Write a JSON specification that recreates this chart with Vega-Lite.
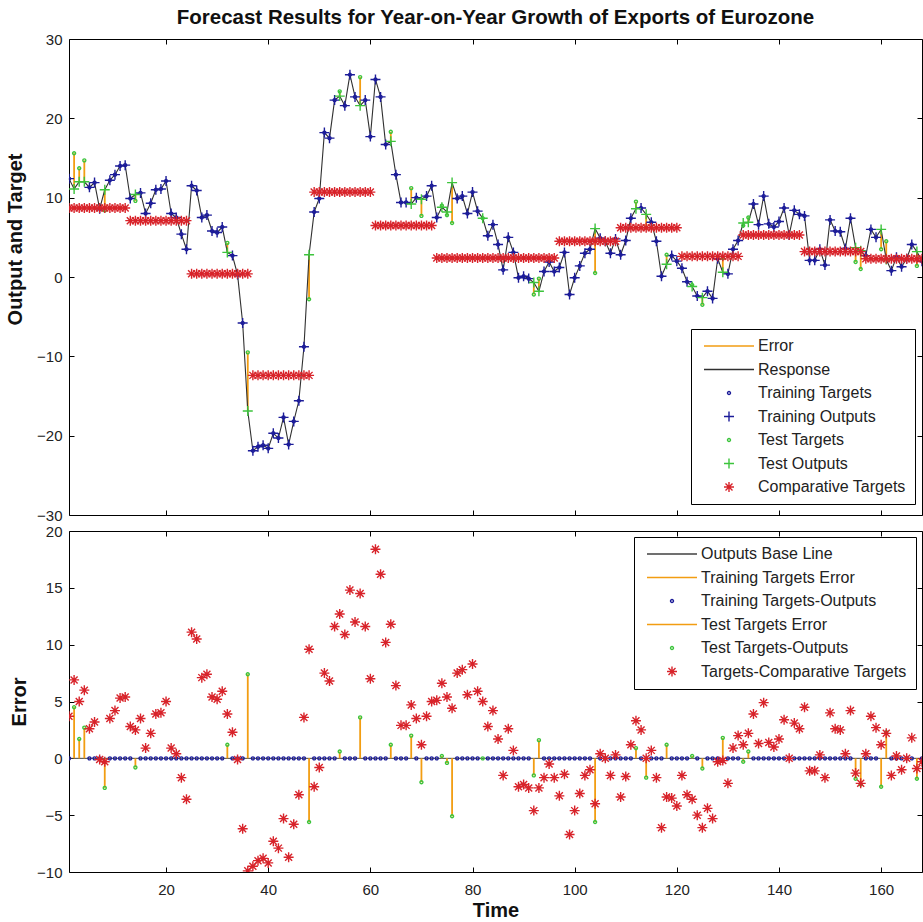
{
  "$schema": "https://vega.github.io/schema/vega-lite/v6.json",
  "background": "white",
  "padding": {"left": 5, "top": 7, "right": 0, "bottom": 0},
  "config": {
    "font": "Liberation Sans",
    "view": {"stroke": "#000", "strokeWidth": 1},
    "axis": {"grid": false, "domain": false, "tickSize": -5, "tickColor": "#000", "tickWidth": 1,
      "labelFont": "Liberation Sans", "labelFontSize": 15, "labelColor": "#222",
      "titleFont": "Liberation Sans", "titleFontSize": 20, "titleFontWeight": "bold", "titleColor": "#111",
      "labelFlush": false, "labelOverlap": false, "labelBound": false},
    "axisX": {"labelPadding": 15, "titlePadding": 3},
    "axisY": {"labelPadding": 12},
    "legend": {"labelFont": "Liberation Sans", "labelFontSize": 16, "labelColor": "#222",
      "symbolSize": 100, "symbolStrokeWidth": 1.4, "rowPadding": 7.5, "padding": 9,
      "strokeColor": "#000", "fillColor": "#fff", "symbolOffset": 21, "labelOffset": 21,
      "cornerRadius": 0, "labelLimit": 400, "symbolFillColor": "transparent"},
    "title": {"font": "Liberation Sans", "fontSize": 20.5, "fontWeight": "bold", "color": "#111", "anchor": "middle", "offset": 4}
  },
  "data": {"values": [
    {"t":1,"target":12.4,"output":12.4,"comp":8.7,"err":0,"diff":3.7,"set":"train"},
    {"t":2,"target":15.6,"output":11.1,"comp":8.7,"err":4.5,"diff":6.9,"set":"test"},
    {"t":3,"target":13.7,"output":12.0,"comp":8.7,"err":1.7,"diff":5.0,"set":"test"},
    {"t":4,"target":14.7,"output":12.0,"comp":8.7,"err":2.7,"diff":6.0,"set":"test"},
    {"t":5,"target":11.3,"output":11.3,"comp":8.7,"err":0,"diff":2.6,"set":"train"},
    {"t":6,"target":11.9,"output":11.9,"comp":8.7,"err":0,"diff":3.2,"set":"train"},
    {"t":7,"target":8.6,"output":8.6,"comp":8.7,"err":0,"diff":-0.1,"set":"train"},
    {"t":8,"target":8.4,"output":11.0,"comp":8.7,"err":-2.6,"diff":-0.3,"set":"test"},
    {"t":9,"target":12.2,"output":12.2,"comp":8.7,"err":0,"diff":3.5,"set":"train"},
    {"t":10,"target":12.9,"output":12.9,"comp":8.7,"err":0,"diff":4.2,"set":"train"},
    {"t":11,"target":14.0,"output":14.0,"comp":8.7,"err":0,"diff":5.3,"set":"train"},
    {"t":12,"target":14.1,"output":14.1,"comp":8.7,"err":0,"diff":5.4,"set":"train"},
    {"t":13,"target":9.9,"output":9.9,"comp":7.1,"err":0,"diff":2.8,"set":"train"},
    {"t":14,"target":9.6,"output":10.4,"comp":7.1,"err":-0.8,"diff":2.5,"set":"test"},
    {"t":15,"target":10.6,"output":10.6,"comp":7.1,"err":0,"diff":3.5,"set":"train"},
    {"t":16,"target":8.0,"output":8.0,"comp":7.1,"err":0,"diff":0.9,"set":"train"},
    {"t":17,"target":9.3,"output":9.3,"comp":7.1,"err":0,"diff":2.2,"set":"train"},
    {"t":18,"target":11.0,"output":11.0,"comp":7.1,"err":0,"diff":3.9,"set":"train"},
    {"t":19,"target":11.1,"output":11.1,"comp":7.1,"err":0,"diff":4.0,"set":"train"},
    {"t":20,"target":12.1,"output":12.1,"comp":7.1,"err":0,"diff":5.0,"set":"train"},
    {"t":21,"target":8.0,"output":8.0,"comp":7.1,"err":0,"diff":0.9,"set":"train"},
    {"t":22,"target":7.5,"output":7.5,"comp":7.1,"err":0,"diff":0.4,"set":"train"},
    {"t":23,"target":5.4,"output":5.4,"comp":7.1,"err":0,"diff":-1.7,"set":"train"},
    {"t":24,"target":3.5,"output":3.5,"comp":7.1,"err":0,"diff":-3.6,"set":"train"},
    {"t":25,"target":11.5,"output":11.5,"comp":0.4,"err":0,"diff":11.1,"set":"train"},
    {"t":26,"target":10.9,"output":10.9,"comp":0.4,"err":0,"diff":10.5,"set":"train"},
    {"t":27,"target":7.5,"output":7.5,"comp":0.4,"err":0,"diff":7.1,"set":"train"},
    {"t":28,"target":7.8,"output":7.8,"comp":0.4,"err":0,"diff":7.4,"set":"train"},
    {"t":29,"target":5.8,"output":5.8,"comp":0.4,"err":0,"diff":5.4,"set":"train"},
    {"t":30,"target":5.6,"output":5.6,"comp":0.4,"err":0,"diff":5.2,"set":"train"},
    {"t":31,"target":6.3,"output":6.3,"comp":0.4,"err":0,"diff":5.9,"set":"train"},
    {"t":32,"target":4.3,"output":3.1,"comp":0.4,"err":1.2,"diff":3.9,"set":"test"},
    {"t":33,"target":2.7,"output":2.7,"comp":0.4,"err":0,"diff":2.3,"set":"train"},
    {"t":34,"target":0.3,"output":0.3,"comp":0.4,"err":0,"diff":-0.1,"set":"train"},
    {"t":35,"target":-5.8,"output":-5.8,"comp":0.4,"err":0,"diff":-6.2,"set":"train"},
    {"t":36,"target":-9.5,"output":-16.9,"comp":0.4,"err":7.4,"diff":-9.9,"set":"test"},
    {"t":37,"target":-21.9,"output":-21.9,"comp":-12.4,"err":0,"diff":-9.5,"set":"train"},
    {"t":38,"target":-21.4,"output":-21.4,"comp":-12.4,"err":0,"diff":-9.0,"set":"train"},
    {"t":39,"target":-21.2,"output":-21.2,"comp":-12.4,"err":0,"diff":-8.8,"set":"train"},
    {"t":40,"target":-21.6,"output":-21.6,"comp":-12.4,"err":0,"diff":-9.2,"set":"train"},
    {"t":41,"target":-19.7,"output":-19.7,"comp":-12.4,"err":0,"diff":-7.3,"set":"train"},
    {"t":42,"target":-20.3,"output":-20.3,"comp":-12.4,"err":0,"diff":-7.9,"set":"train"},
    {"t":43,"target":-17.7,"output":-17.7,"comp":-12.4,"err":0,"diff":-5.3,"set":"train"},
    {"t":44,"target":-21.1,"output":-21.1,"comp":-12.4,"err":0,"diff":-8.7,"set":"train"},
    {"t":45,"target":-18.2,"output":-18.2,"comp":-12.4,"err":0,"diff":-5.8,"set":"train"},
    {"t":46,"target":-15.6,"output":-15.6,"comp":-12.4,"err":0,"diff":-3.2,"set":"train"},
    {"t":47,"target":-8.8,"output":-8.8,"comp":-12.4,"err":0,"diff":3.6,"set":"train"},
    {"t":48,"target":-2.8,"output":2.8,"comp":-12.4,"err":-5.6,"diff":9.6,"set":"test"},
    {"t":49,"target":8.2,"output":8.2,"comp":10.7,"err":0,"diff":-2.5,"set":"train"},
    {"t":50,"target":9.9,"output":9.9,"comp":10.7,"err":0,"diff":-0.8,"set":"train"},
    {"t":51,"target":18.2,"output":18.2,"comp":10.7,"err":0,"diff":7.5,"set":"train"},
    {"t":52,"target":17.5,"output":17.5,"comp":10.7,"err":0,"diff":6.8,"set":"train"},
    {"t":53,"target":22.3,"output":22.3,"comp":10.7,"err":0,"diff":11.6,"set":"train"},
    {"t":54,"target":23.4,"output":22.8,"comp":10.7,"err":0.6,"diff":12.7,"set":"test"},
    {"t":55,"target":21.6,"output":21.6,"comp":10.7,"err":0,"diff":10.9,"set":"train"},
    {"t":56,"target":25.5,"output":25.5,"comp":10.7,"err":0,"diff":14.8,"set":"train"},
    {"t":57,"target":22.7,"output":22.7,"comp":10.7,"err":0,"diff":12.0,"set":"train"},
    {"t":58,"target":25.2,"output":21.6,"comp":10.7,"err":3.6,"diff":14.5,"set":"test"},
    {"t":59,"target":22.3,"output":22.3,"comp":10.7,"err":0,"diff":11.6,"set":"train"},
    {"t":60,"target":17.7,"output":17.7,"comp":10.7,"err":0,"diff":7.0,"set":"train"},
    {"t":61,"target":24.9,"output":24.9,"comp":6.5,"err":0,"diff":18.4,"set":"train"},
    {"t":62,"target":22.7,"output":22.7,"comp":6.5,"err":0,"diff":16.2,"set":"train"},
    {"t":63,"target":16.7,"output":16.7,"comp":6.5,"err":0,"diff":10.2,"set":"train"},
    {"t":64,"target":18.3,"output":17.1,"comp":6.5,"err":1.2,"diff":11.8,"set":"test"},
    {"t":65,"target":12.9,"output":12.9,"comp":6.5,"err":0,"diff":6.4,"set":"train"},
    {"t":66,"target":9.4,"output":9.4,"comp":6.5,"err":0,"diff":2.9,"set":"train"},
    {"t":67,"target":9.4,"output":9.4,"comp":6.5,"err":0,"diff":2.9,"set":"train"},
    {"t":68,"target":11.2,"output":9.2,"comp":6.5,"err":2.0,"diff":4.7,"set":"test"},
    {"t":69,"target":10.0,"output":10.0,"comp":6.5,"err":0,"diff":3.5,"set":"train"},
    {"t":70,"target":7.7,"output":9.8,"comp":6.5,"err":-2.1,"diff":1.2,"set":"test"},
    {"t":71,"target":10.2,"output":10.2,"comp":6.5,"err":0,"diff":3.7,"set":"train"},
    {"t":72,"target":11.5,"output":11.5,"comp":6.5,"err":0,"diff":5.0,"set":"train"},
    {"t":73,"target":7.5,"output":7.5,"comp":2.4,"err":0,"diff":5.1,"set":"train"},
    {"t":74,"target":9.0,"output":8.8,"comp":2.4,"err":0.2,"diff":6.6,"set":"test"},
    {"t":75,"target":7.8,"output":8.2,"comp":2.4,"err":-0.4,"diff":5.4,"set":"test"},
    {"t":76,"target":6.8,"output":11.9,"comp":2.4,"err":-5.1,"diff":4.4,"set":"test"},
    {"t":77,"target":9.9,"output":9.9,"comp":2.4,"err":0,"diff":7.5,"set":"train"},
    {"t":78,"target":10.2,"output":10.2,"comp":2.4,"err":0,"diff":7.8,"set":"train"},
    {"t":79,"target":8.0,"output":8.0,"comp":2.4,"err":0,"diff":5.6,"set":"train"},
    {"t":80,"target":10.7,"output":10.7,"comp":2.4,"err":0,"diff":8.3,"set":"train"},
    {"t":81,"target":8.3,"output":8.3,"comp":2.4,"err":0,"diff":5.9,"set":"train"},
    {"t":82,"target":7.4,"output":7.4,"comp":2.4,"err":0,"diff":5.0,"set":"test"},
    {"t":83,"target":5.2,"output":5.2,"comp":2.4,"err":0,"diff":2.8,"set":"train"},
    {"t":84,"target":6.6,"output":6.6,"comp":2.4,"err":0,"diff":4.2,"set":"train"},
    {"t":85,"target":4.1,"output":4.1,"comp":2.4,"err":0,"diff":1.7,"set":"train"},
    {"t":86,"target":0.9,"output":0.9,"comp":2.4,"err":0,"diff":-1.5,"set":"train"},
    {"t":87,"target":5.0,"output":5.0,"comp":2.4,"err":0,"diff":2.6,"set":"train"},
    {"t":88,"target":3.1,"output":3.1,"comp":2.4,"err":0,"diff":0.7,"set":"train"},
    {"t":89,"target":-0.1,"output":-0.1,"comp":2.4,"err":0,"diff":-2.5,"set":"train"},
    {"t":90,"target":0.1,"output":0.1,"comp":2.4,"err":0,"diff":-2.3,"set":"train"},
    {"t":91,"target":-0.2,"output":-0.2,"comp":2.4,"err":0,"diff":-2.6,"set":"train"},
    {"t":92,"target":-2.2,"output":-0.7,"comp":2.4,"err":-1.5,"diff":-4.6,"set":"test"},
    {"t":93,"target":-0.2,"output":-1.8,"comp":2.4,"err":1.6,"diff":-2.6,"set":"test"},
    {"t":94,"target":0.7,"output":0.7,"comp":2.4,"err":0,"diff":-1.7,"set":"train"},
    {"t":95,"target":1.9,"output":1.9,"comp":2.4,"err":0,"diff":-0.5,"set":"train"},
    {"t":96,"target":0.7,"output":0.7,"comp":2.4,"err":0,"diff":-1.7,"set":"train"},
    {"t":97,"target":1.2,"output":1.2,"comp":4.5,"err":0,"diff":-3.3,"set":"train"},
    {"t":98,"target":3.1,"output":3.1,"comp":4.5,"err":0,"diff":-1.4,"set":"train"},
    {"t":99,"target":-2.2,"output":-2.2,"comp":4.5,"err":0,"diff":-6.7,"set":"train"},
    {"t":100,"target":-0.1,"output":-0.1,"comp":4.5,"err":0,"diff":-4.6,"set":"train"},
    {"t":101,"target":1.4,"output":1.4,"comp":4.5,"err":0,"diff":-3.1,"set":"train"},
    {"t":102,"target":3.0,"output":3.0,"comp":4.5,"err":0,"diff":-1.5,"set":"train"},
    {"t":103,"target":3.5,"output":3.5,"comp":4.5,"err":0,"diff":-1.0,"set":"train"},
    {"t":104,"target":0.5,"output":6.1,"comp":4.5,"err":-5.6,"diff":-4.0,"set":"test"},
    {"t":105,"target":4.9,"output":4.9,"comp":4.5,"err":0,"diff":0.4,"set":"train"},
    {"t":106,"target":4.5,"output":4.5,"comp":4.5,"err":0,"diff":0.0,"set":"train"},
    {"t":107,"target":3.0,"output":3.0,"comp":4.5,"err":0,"diff":-1.5,"set":"train"},
    {"t":108,"target":4.8,"output":4.8,"comp":4.5,"err":0,"diff":0.3,"set":"train"},
    {"t":109,"target":2.8,"output":2.8,"comp":6.2,"err":0,"diff":-3.4,"set":"train"},
    {"t":110,"target":4.6,"output":4.6,"comp":6.2,"err":0,"diff":-1.6,"set":"train"},
    {"t":111,"target":7.4,"output":7.4,"comp":6.2,"err":0,"diff":1.2,"set":"train"},
    {"t":112,"target":9.5,"output":8.6,"comp":6.2,"err":0.9,"diff":3.3,"set":"test"},
    {"t":113,"target":8.7,"output":8.7,"comp":6.2,"err":0,"diff":2.5,"set":"train"},
    {"t":114,"target":6.2,"output":7.9,"comp":6.2,"err":-1.7,"diff":0.0,"set":"test"},
    {"t":115,"target":6.9,"output":6.9,"comp":6.2,"err":0,"diff":0.7,"set":"train"},
    {"t":116,"target":4.5,"output":4.5,"comp":6.2,"err":0,"diff":-1.7,"set":"train"},
    {"t":117,"target":0.1,"output":0.1,"comp":6.2,"err":0,"diff":-6.1,"set":"train"},
    {"t":118,"target":2.8,"output":1.6,"comp":6.2,"err":1.2,"diff":-3.4,"set":"test"},
    {"t":119,"target":2.7,"output":2.7,"comp":6.2,"err":0,"diff":-3.5,"set":"train"},
    {"t":120,"target":2.0,"output":2.0,"comp":6.2,"err":0,"diff":-4.2,"set":"train"},
    {"t":121,"target":1.1,"output":1.1,"comp":2.6,"err":0,"diff":-1.5,"set":"train"},
    {"t":122,"target":-0.6,"output":-0.6,"comp":2.6,"err":0,"diff":-3.2,"set":"train"},
    {"t":123,"target":-1.0,"output":-1.2,"comp":2.6,"err":0.2,"diff":-3.6,"set":"test"},
    {"t":124,"target":-2.4,"output":-2.4,"comp":2.6,"err":0,"diff":-5.0,"set":"train"},
    {"t":125,"target":-3.5,"output":-2.6,"comp":2.6,"err":-0.9,"diff":-6.1,"set":"test"},
    {"t":126,"target":-1.8,"output":-1.8,"comp":2.6,"err":0,"diff":-4.4,"set":"train"},
    {"t":127,"target":-2.7,"output":-2.7,"comp":2.6,"err":0,"diff":-5.3,"set":"train"},
    {"t":128,"target":2.3,"output":2.3,"comp":2.6,"err":0,"diff":-0.3,"set":"train"},
    {"t":129,"target":2.4,"output":0.6,"comp":2.6,"err":1.8,"diff":-0.2,"set":"test"},
    {"t":130,"target":0.4,"output":0.4,"comp":2.6,"err":0,"diff":-2.2,"set":"train"},
    {"t":131,"target":3.5,"output":3.5,"comp":2.6,"err":0,"diff":0.9,"set":"train"},
    {"t":132,"target":4.6,"output":4.6,"comp":2.6,"err":0,"diff":2.0,"set":"train"},
    {"t":133,"target":6.5,"output":6.8,"comp":5.3,"err":-0.3,"diff":1.2,"set":"test"},
    {"t":134,"target":7.5,"output":6.9,"comp":5.3,"err":0.6,"diff":2.2,"set":"test"},
    {"t":135,"target":9.2,"output":9.2,"comp":5.3,"err":0,"diff":3.9,"set":"train"},
    {"t":136,"target":6.6,"output":6.6,"comp":5.3,"err":0,"diff":1.3,"set":"train"},
    {"t":137,"target":10.2,"output":10.2,"comp":5.3,"err":0,"diff":4.9,"set":"train"},
    {"t":138,"target":6.7,"output":6.7,"comp":5.3,"err":0,"diff":1.4,"set":"train"},
    {"t":139,"target":6.3,"output":6.3,"comp":5.3,"err":0,"diff":1.0,"set":"train"},
    {"t":140,"target":7.0,"output":7.0,"comp":5.3,"err":0,"diff":1.7,"set":"train"},
    {"t":141,"target":8.7,"output":8.7,"comp":5.3,"err":0,"diff":3.4,"set":"train"},
    {"t":142,"target":5.3,"output":5.3,"comp":5.3,"err":0,"diff":0.0,"set":"train"},
    {"t":143,"target":8.4,"output":8.4,"comp":5.3,"err":0,"diff":3.1,"set":"train"},
    {"t":144,"target":7.9,"output":7.9,"comp":5.3,"err":0,"diff":2.6,"set":"train"},
    {"t":145,"target":7.7,"output":7.7,"comp":3.2,"err":0,"diff":4.5,"set":"train"},
    {"t":146,"target":2.1,"output":2.1,"comp":3.2,"err":0,"diff":-1.1,"set":"train"},
    {"t":147,"target":2.1,"output":2.1,"comp":3.2,"err":0,"diff":-1.1,"set":"train"},
    {"t":148,"target":3.5,"output":3.5,"comp":3.2,"err":0,"diff":0.3,"set":"train"},
    {"t":149,"target":1.5,"output":1.5,"comp":3.2,"err":0,"diff":-1.7,"set":"train"},
    {"t":150,"target":7.2,"output":7.2,"comp":3.2,"err":0,"diff":4.0,"set":"train"},
    {"t":151,"target":5.8,"output":5.8,"comp":3.2,"err":0,"diff":2.6,"set":"train"},
    {"t":152,"target":5.7,"output":5.7,"comp":3.2,"err":0,"diff":2.5,"set":"train"},
    {"t":153,"target":3.6,"output":3.6,"comp":3.2,"err":0,"diff":0.4,"set":"train"},
    {"t":154,"target":7.4,"output":7.4,"comp":3.2,"err":0,"diff":4.2,"set":"train"},
    {"t":155,"target":1.9,"output":3.7,"comp":3.2,"err":-1.8,"diff":-1.3,"set":"test"},
    {"t":156,"target":1.0,"output":3.3,"comp":3.2,"err":-2.3,"diff":-2.2,"set":"test"},
    {"t":157,"target":2.7,"output":2.7,"comp":2.3,"err":0,"diff":0.4,"set":"train"},
    {"t":158,"target":6.0,"output":6.0,"comp":2.3,"err":0,"diff":3.7,"set":"train"},
    {"t":159,"target":5.0,"output":5.0,"comp":2.3,"err":0,"diff":2.7,"set":"train"},
    {"t":160,"target":3.5,"output":6.0,"comp":2.3,"err":-2.5,"diff":1.2,"set":"test"},
    {"t":161,"target":4.5,"output":2.2,"comp":2.3,"err":2.3,"diff":2.2,"set":"test"},
    {"t":162,"target":0.8,"output":0.8,"comp":2.3,"err":0,"diff":-1.5,"set":"train"},
    {"t":163,"target":2.5,"output":2.5,"comp":2.3,"err":0,"diff":0.2,"set":"train"},
    {"t":164,"target":1.3,"output":1.3,"comp":2.3,"err":0,"diff":-1.0,"set":"train"},
    {"t":165,"target":2.3,"output":2.3,"comp":2.3,"err":0,"diff":0.0,"set":"train"},
    {"t":166,"target":4.1,"output":4.1,"comp":2.3,"err":0,"diff":1.8,"set":"train"},
    {"t":167,"target":1.4,"output":3.2,"comp":2.3,"err":-1.8,"diff":-0.9,"set":"test"},
    {"t":168,"target":2.0,"output":2.0,"comp":2.3,"err":0,"diff":-0.3,"set":"train"}
  ]},
  "spacing": 16,
  "bounds": "flush",
  "resolve": {"scale": {"stroke": "independent", "shape": "independent"}, "legend": {"stroke": "independent", "shape": "independent"}},
  "vconcat": [
    {
      "width": 853, "height": 476,
      "title": {"text": "Forecast Results for Year-on-Year Growth of Exports of Eurozone"},
      "resolve": {"axis": {"x": "independent", "y": "independent"}},
      "layer": [
        {
          "transform": [{"filter": "datum.set === 'test'"}],
          "mark": {"type": "rule", "strokeWidth": 1.8},
          "encoding": {
            "x": {"field": "t", "type": "quantitative", "scale": {"domain": [1, 168], "nice": false, "zero": false},
              "axis": {"orient": "bottom", "values": [20, 40, 60, 80, 100, 120, 140, 160], "labels": false, "title": null, "minExtent": 0, "maxExtent": 0}},
            "y": {"field": "target", "type": "quantitative", "scale": {"domain": [-30, 30], "nice": false, "zero": false},
              "axis": {"orient": "left", "values": [-30, -20, -10, 0, 10, 20, 30], "title": "Output and Target", "titlePadding": 11, "titleY": 200}},
            "y2": {"field": "output"},
            "stroke": {"datum": "Error", "type": "nominal",
              "scale": {"domain": ["Error", "Response", "Training Targets", "Training Outputs", "Test Targets", "Test Outputs", "Comparative Targets"],
                "range": ["#F29D12", "#303030", "#1C1C99", "#1C1C99", "#3CC43C", "#3CC43C", "#D8232A"]},
              "legend": {"orient": "none", "legendX": 622, "legendY": 290, "title": null}}
          }
        },
        {
          "mark": {"type": "line", "strokeWidth": 1.1},
          "encoding": {
            "x": {"field": "t", "type": "quantitative", "scale": {"domain": [1, 168], "nice": false, "zero": false},
              "axis": {"orient": "top", "values": [20, 40, 60, 80, 100, 120, 140, 160], "labels": false, "title": null, "minExtent": 0, "maxExtent": 0}},
            "y": {"field": "output", "type": "quantitative", "scale": {"domain": [-30, 30], "nice": false, "zero": false},
              "axis": {"orient": "right", "values": [-30, -20, -10, 0, 10, 20, 30], "labels": false, "title": null, "minExtent": 0, "maxExtent": 0}},
            "stroke": {"datum": "Response", "type": "nominal"}
          }
        },
        {
          "transform": [{"filter": "datum.set === 'train'"}],
          "mark": {"type": "point", "filled": false, "size": 100, "strokeWidth": 1.4, "opacity": 1, "clip": true},
          "encoding": {
            "x": {"field": "t", "type": "quantitative", "scale": {"domain": [1, 168], "nice": false, "zero": false}, "axis": null},
            "y": {"field": "target", "type": "quantitative", "scale": {"domain": [-30, 30], "nice": false, "zero": false}, "axis": null},
            "stroke": {"datum": "Training Targets", "type": "nominal"},
            "shape": {"datum": "Training Targets", "type": "nominal",
              "scale": {"domain": ["Error", "Response", "Training Targets", "Training Outputs", "Test Targets", "Test Outputs", "Comparative Targets"],
                "range": ["M-5,0H5", "M-5,0H5", "M-0.3,0A0.3,0.3 0 1,0 0.3,0A0.3,0.3 0 1,0 -0.3,0", "M-1,0H1M0,-1V1", "M-0.3,0A0.3,0.3 0 1,0 0.3,0A0.3,0.3 0 1,0 -0.3,0", "M-1,0H1M0,-1V1", "M-1,0H1M0,-1V1M-0.7,-0.7L0.7,0.7M-0.7,0.7L0.7,-0.7"]},
              "legend": {"orient": "none", "legendX": 622, "legendY": 290, "title": null}}
          }
        },
        {
          "transform": [{"filter": "datum.set === 'train'"}],
          "mark": {"type": "point", "filled": false, "size": 100, "strokeWidth": 1.4, "opacity": 1, "clip": true},
          "encoding": {
            "x": {"field": "t", "type": "quantitative", "scale": {"domain": [1, 168], "nice": false, "zero": false}, "axis": null},
            "y": {"field": "output", "type": "quantitative", "scale": {"domain": [-30, 30], "nice": false, "zero": false}, "axis": null},
            "stroke": {"datum": "Training Outputs", "type": "nominal"},
            "shape": {"datum": "Training Outputs", "type": "nominal"}
          }
        },
        {
          "transform": [{"filter": "datum.set === 'test'"}],
          "mark": {"type": "point", "filled": false, "size": 100, "strokeWidth": 1.4, "opacity": 1, "clip": true},
          "encoding": {
            "x": {"field": "t", "type": "quantitative", "scale": {"domain": [1, 168], "nice": false, "zero": false}, "axis": null},
            "y": {"field": "target", "type": "quantitative", "scale": {"domain": [-30, 30], "nice": false, "zero": false}, "axis": null},
            "stroke": {"datum": "Test Targets", "type": "nominal"},
            "shape": {"datum": "Test Targets", "type": "nominal"}
          }
        },
        {
          "transform": [{"filter": "datum.set === 'test'"}],
          "mark": {"type": "point", "filled": false, "size": 100, "strokeWidth": 1.4, "opacity": 1, "clip": true},
          "encoding": {
            "x": {"field": "t", "type": "quantitative", "scale": {"domain": [1, 168], "nice": false, "zero": false}, "axis": null},
            "y": {"field": "output", "type": "quantitative", "scale": {"domain": [-30, 30], "nice": false, "zero": false}, "axis": null},
            "stroke": {"datum": "Test Outputs", "type": "nominal"},
            "shape": {"datum": "Test Outputs", "type": "nominal"}
          }
        },
        {
          "mark": {"type": "point", "filled": false, "size": 100, "strokeWidth": 1.4, "opacity": 1, "clip": true},
          "encoding": {
            "x": {"field": "t", "type": "quantitative", "scale": {"domain": [1, 168], "nice": false, "zero": false}, "axis": null},
            "y": {"field": "comp", "type": "quantitative", "scale": {"domain": [-30, 30], "nice": false, "zero": false}, "axis": null},
            "stroke": {"datum": "Comparative Targets", "type": "nominal"},
            "shape": {"datum": "Comparative Targets", "type": "nominal"}
          }
        }
      ]
    },
    {
      "width": 853, "height": 341,
      "resolve": {"axis": {"x": "independent", "y": "independent"}},
      "layer": [
        {
          "transform": [{"filter": "datum.t === 1"}],
          "mark": {"type": "rule", "strokeWidth": 1},
          "encoding": {
            "y": {"datum": 0, "type": "quantitative", "scale": {"domain": [-10, 20], "nice": false, "zero": false}, "axis": null},
            "stroke": {"datum": "Outputs Base Line", "type": "nominal",
              "scale": {"domain": ["Outputs Base Line", "Training Targets Error", "Training Targets-Outputs", "Test Targets Error", "Test Targets-Outputs", "Targets-Comparative Targets"],
                "range": ["#404040", "#F29D12", "#1C1C99", "#F29D12", "#3CC43C", "#D8232A"]},
              "legend": {"orient": "none", "legendX": 565, "legendY": 6, "title": null}}
          }
        },
        {
          "transform": [{"filter": "datum.set === 'train'"}],
          "mark": {"type": "rule", "strokeWidth": 1.8},
          "encoding": {
            "x": {"field": "t", "type": "quantitative", "scale": {"domain": [1, 168], "nice": false, "zero": false},
              "axis": {"orient": "bottom", "values": [20, 40, 60, 80, 100, 120, 140, 160], "title": "Time"}},
            "y": {"field": "err", "type": "quantitative", "scale": {"domain": [-10, 20], "nice": false, "zero": false},
              "axis": {"orient": "left", "values": [-10, -5, 0, 5, 10, 15, 20], "title": "Error", "titlePadding": 7}},
            "y2": {"datum": 0},
            "stroke": {"datum": "Training Targets Error", "type": "nominal"}
          }
        },
        {
          "transform": [{"filter": "datum.set === 'test'"}],
          "mark": {"type": "rule", "strokeWidth": 1.8},
          "encoding": {
            "x": {"field": "t", "type": "quantitative", "scale": {"domain": [1, 168], "nice": false, "zero": false},
              "axis": {"orient": "top", "values": [20, 40, 60, 80, 100, 120, 140, 160], "labels": false, "title": null, "minExtent": 0, "maxExtent": 0}},
            "y": {"field": "err", "type": "quantitative", "scale": {"domain": [-10, 20], "nice": false, "zero": false},
              "axis": {"orient": "right", "values": [-10, -5, 0, 5, 10, 15, 20], "labels": false, "title": null, "minExtent": 0, "maxExtent": 0}},
            "y2": {"datum": 0},
            "stroke": {"datum": "Test Targets Error", "type": "nominal"}
          }
        },
        {
          "transform": [{"filter": "datum.set === 'train'"}],
          "mark": {"type": "point", "filled": false, "size": 100, "strokeWidth": 1.4, "opacity": 1, "clip": true},
          "encoding": {
            "x": {"field": "t", "type": "quantitative", "scale": {"domain": [1, 168], "nice": false, "zero": false}, "axis": null},
            "y": {"field": "err", "type": "quantitative", "scale": {"domain": [-10, 20], "nice": false, "zero": false}, "axis": null},
            "stroke": {"datum": "Training Targets-Outputs", "type": "nominal"},
            "shape": {"datum": "Training Targets-Outputs", "type": "nominal",
              "scale": {"domain": ["Outputs Base Line", "Training Targets Error", "Training Targets-Outputs", "Test Targets Error", "Test Targets-Outputs", "Targets-Comparative Targets"],
                "range": ["M-5,0H5", "M-5,0H5", "M-0.3,0A0.3,0.3 0 1,0 0.3,0A0.3,0.3 0 1,0 -0.3,0", "M-5,0H5", "M-0.3,0A0.3,0.3 0 1,0 0.3,0A0.3,0.3 0 1,0 -0.3,0", "M-1,0H1M0,-1V1M-0.7,-0.7L0.7,0.7M-0.7,0.7L0.7,-0.7"]},
              "legend": {"orient": "none", "legendX": 565, "legendY": 6, "title": null}}
          }
        },
        {
          "transform": [{"filter": "datum.set === 'test'"}],
          "mark": {"type": "point", "filled": false, "size": 100, "strokeWidth": 1.4, "opacity": 1, "clip": true},
          "encoding": {
            "x": {"field": "t", "type": "quantitative", "scale": {"domain": [1, 168], "nice": false, "zero": false}, "axis": null},
            "y": {"field": "err", "type": "quantitative", "scale": {"domain": [-10, 20], "nice": false, "zero": false}, "axis": null},
            "stroke": {"datum": "Test Targets-Outputs", "type": "nominal"},
            "shape": {"datum": "Test Targets-Outputs", "type": "nominal"}
          }
        },
        {
          "mark": {"type": "point", "filled": false, "size": 100, "strokeWidth": 1.4, "opacity": 1, "clip": true},
          "encoding": {
            "x": {"field": "t", "type": "quantitative", "scale": {"domain": [1, 168], "nice": false, "zero": false}, "axis": null},
            "y": {"field": "diff", "type": "quantitative", "scale": {"domain": [-10, 20], "nice": false, "zero": false}, "axis": null},
            "stroke": {"datum": "Targets-Comparative Targets", "type": "nominal"},
            "shape": {"datum": "Targets-Comparative Targets", "type": "nominal"}
          }
        }
      ]
    }
  ]
}
